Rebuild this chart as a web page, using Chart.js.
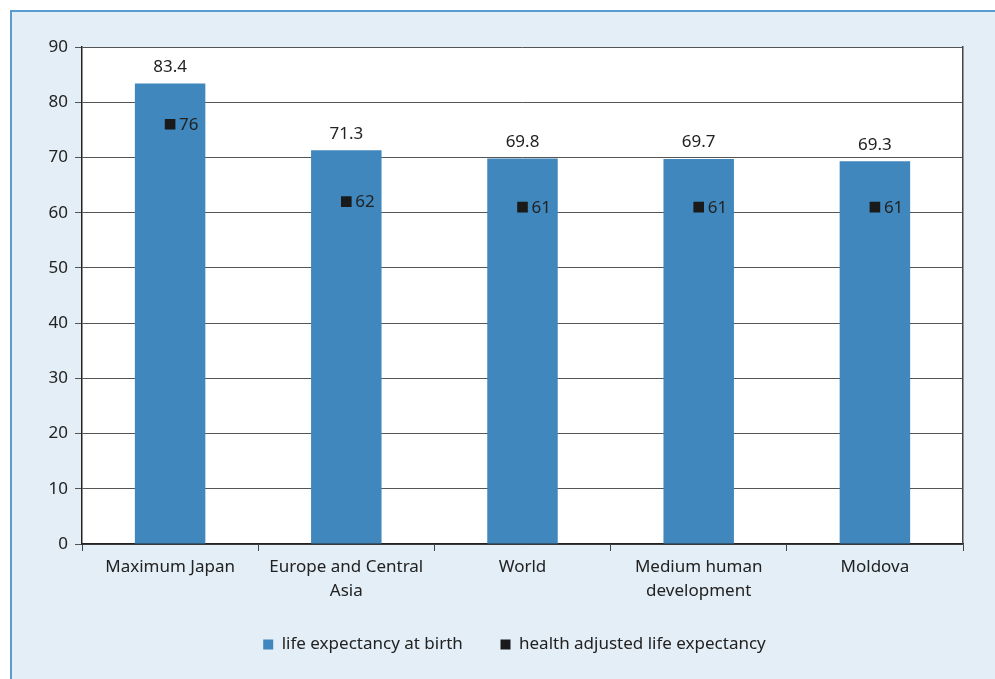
<!DOCTYPE html>
<html>
<head>
<meta charset="utf-8">
<script src="https://cdn.jsdelivr.net/npm/chart.js@4/dist/chart.umd.min.js"></script>
<style>
  html, body { margin: 0; padding: 0; background: #fff; }
  #frame {
    position: absolute; left: 10px; top: 10px; width: 985px; height: 669px;
    background: #e3eef6; border-top: 2px solid #5a9bd0; border-left: 2px solid #5a9bd0;
    box-sizing: border-box;
  }
  #wrap { position: absolute; left: 0; top: 0; width: 995px; height: 679px; }
</style>
</head>
<body>
<div id="frame"></div>
<div id="wrap"><canvas id="lifeChart"></canvas></div>
<script>
const categories = ['Maximum Japan', ['Europe and Central', 'Asia'], 'World', ['Medium human', 'development'], 'Moldova'];
const lifeExpectancy = [83.4, 71.3, 69.8, 69.7, 69.3];
const healthAdjusted = [76, 62, 61, 61, 61];
const yTicks = [0, 10, 20, 30, 40, 50, 60, 70, 80, 90];

const fontFamily = '"Noto Sans", "Open Sans", sans-serif';

// white plot area behind the bars
const plotBackground = {
    id: 'plotBackground',
    beforeDraw(chart) {
        const { ctx, chartArea: a } = chart;
        ctx.save();
        ctx.fillStyle = '#ffffff';
        ctx.fillRect(a.left, a.top, a.right - a.left, a.bottom - a.top);
        ctx.restore();
    }
};

// value labels: above bars, right of the squares
const valueLabels = {
    id: 'valueLabels',
    afterDatasetsDraw(chart) {
        const ctx = chart.ctx;
        ctx.save();
        ctx.font = '17px ' + fontFamily;
        ctx.fillStyle = '#222';
        chart.getDatasetMeta(0).data.forEach((bar, i) => {
            ctx.textAlign = 'center';
            ctx.textBaseline = 'bottom';
            ctx.fillText(lifeExpectancy[i].toFixed(1), bar.x, bar.y - 8);
        });
        chart.getDatasetMeta(1).data.forEach((pt, i) => {
            ctx.textAlign = 'left';
            ctx.textBaseline = 'middle';
            ctx.fillText(String(healthAdjusted[i]), pt.x + 9, pt.y + 1);
        });
        ctx.restore();
    }
};

new Chart(document.getElementById('lifeChart'), {
    data: {
        labels: categories,
        datasets: [{
            type: 'bar',
            label: 'life expectancy at birth',
            data: lifeExpectancy,
            backgroundColor: '#3f87bd',
            borderWidth: 0,
            categoryPercentage: 1,
            barPercentage: 0.4,
            order: 2
        }, {
            type: 'line',
            label: 'health adjusted life expectancy',
            data: healthAdjusted,
            showLine: false,
            pointStyle: 'rect',
            pointRadius: 7.5,
            pointBorderWidth: 0,
            backgroundColor: '#1a1a1a',
            borderColor: '#1a1a1a',
            borderWidth: 0,
            order: 1
        }]
    },
    options: {
        responsive: true,
        maintainAspectRatio: false,
        animation: false,
        layout: { padding: { left: 34, right: 0, top: 47, bottom: 16 } },
        plugins: {
            legend: {
                position: 'bottom',
                labels: {
                    boxWidth: 10,
                    boxHeight: 10,
                    padding: 20,
                    color: '#222',
                    font: { family: fontFamily, size: 17 },
                    sort: (a, b) => a.datasetIndex - b.datasetIndex,
                    // a little extra room after the first entry
                    generateLabels(chart) {
                        const items = Chart.defaults.plugins.legend.labels.generateLabels(chart);
                        return items.map(it => it.datasetIndex === 0 ? { ...it, text: it.text + '    ' } : it);
                    }
                }
            },
            tooltip: { enabled: false }
        },
        scales: {
            x: {
                offset: true,
                grid: {
                    offset: true,
                    drawOnChartArea: false,
                    color: '#444',
                    tickLength: 7
                },
                border: { color: '#222', width: 1.5 },
                ticks: {
                    color: '#222',
                    padding: 4,
                    maxRotation: 0,
                    font: { family: fontFamily, size: 17, lineHeight: 1.4 }
                },
                afterFit(scale) { scale.height = 72; }
            },
            y: {
                min: 0,
                max: 90,
                afterBuildTicks(scale) { scale.ticks = yTicks.map(v => ({ value: v })); },
                grid: { color: '#555', tickLength: 7 },
                border: { color: '#222', width: 1.5 },
                ticks: {
                    color: '#222',
                    padding: 7,
                    font: { family: fontFamily, size: 17 }
                },
                afterFit(scale) { scale.width = 48; }
            },
            y2: {
                position: 'right',
                min: 0,
                max: 90,
                grid: { display: false },
                border: { color: '#444', width: 1.5 },
                ticks: { display: false },
                afterFit(scale) { scale.width = 32; }
            }
        }
    },
    plugins: [plotBackground, valueLabels]
});
</script>
</body>
</html>
